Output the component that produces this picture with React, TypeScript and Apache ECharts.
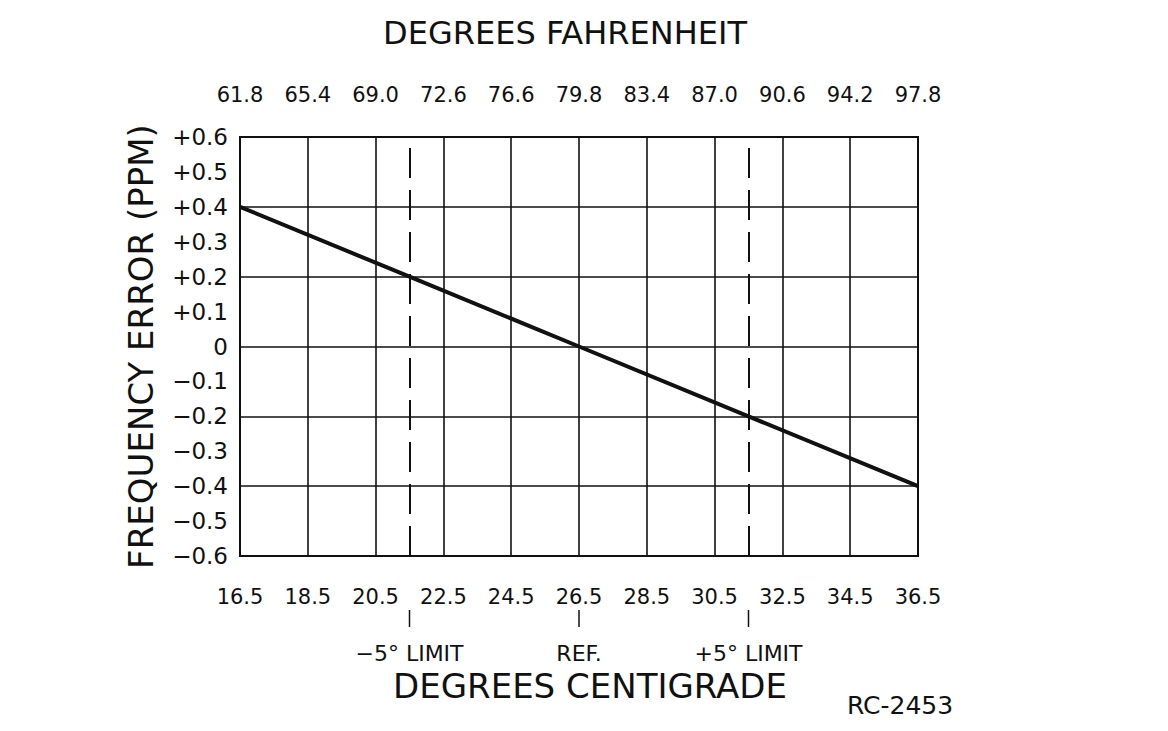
import React, { useEffect, useRef } from "react";
import * as echarts from "echarts";

const celsiusTicks = [16.5, 18.5, 20.5, 22.5, 24.5, 26.5, 28.5, 30.5, 32.5, 34.5, 36.5];
const fahrenheitLabels = ["61.8", "65.4", "69.0", "72.6", "76.6", "79.8", "83.4", "87.0", "90.6", "94.2", "97.8"];
const errorMin = -0.6;
const errorMax = 0.6;
const lineTemps = [16.5, 21.5, 26.5, 31.5, 36.5];
const lineErrors = [0.4, 0.2, 0, -0.2, -0.4];
const limitTemps = [21.5, 31.5];
const markerTemps = [21.5, 26.5, 31.5];
const markerLabels = ["\u22125\u00b0 LIMIT", "REF.", "+5\u00b0 LIMIT"];

const FONT = "DejaVu Sans";
const INK = "#111";

export default function App() {
  const ref = useRef<HTMLDivElement>(null);
  useEffect(() => {
    if (!ref.current) return;
    const chart = echarts.init(ref.current, null, { renderer: "svg" });
    const cMin = celsiusTicks[0];
    const cMax = celsiusTicks[celsiusTicks.length - 1];
    const cStep = celsiusTicks[1] - celsiusTicks[0];
    const fmtErr = (v: number) => {
      const r = Math.round(v * 10) / 10;
      if (r === 0) return "0";
      return (r > 0 ? "+" : "\u2212") + Math.abs(r).toFixed(1);
    };
    chart.setOption({
      animation: false,
      backgroundColor: "#fff",
      grid: { left: 240, right: 250, top: 137, bottom: 175, show: true, borderColor: INK, borderWidth: 2 },
      xAxis: [
        {
          type: "value", min: cMin, max: cMax, interval: cStep, position: "bottom",
          name: "DEGREES CENTIGRADE", nameLocation: "middle", nameGap: 113,
          nameTextStyle: { fontFamily: FONT, fontSize: 34, color: INK, padding: [0, 0, 0, 22] },
          axisLine: { show: false }, axisTick: { show: false },
          axisLabel: { fontFamily: FONT, fontSize: 21, color: INK, margin: 30, formatter: (v: number) => String(v) },
          splitLine: { show: true, lineStyle: { color: INK, width: 1.6 } },
        },
        {
          type: "value", min: cMin, max: cMax, interval: cStep, position: "top",
          name: "DEGREES FAHRENHEIT", nameLocation: "middle", nameGap: 88,
          nameTextStyle: { fontFamily: FONT, fontSize: 32, color: INK, padding: [0, 28, 0, 0] },
          axisLine: { show: false }, axisTick: { show: false },
          axisLabel: {
            fontFamily: FONT, fontSize: 21, color: INK, margin: 32,
            formatter: (v: number) => fahrenheitLabels[Math.round((v - cMin) / cStep)] ?? "",
          },
          splitLine: { show: false },
        },
      ],
      yAxis: [
        {
          type: "value", min: errorMin, max: errorMax, interval: 0.1, position: "left",
          name: "FREQUENCY ERROR (PPM)", nameLocation: "middle", nameGap: 82, nameRotate: 90,
          nameTextStyle: { fontFamily: FONT, fontSize: 34, color: INK },
          axisLine: { show: false }, axisTick: { show: false },
          axisLabel: { fontFamily: FONT, fontSize: 23, color: INK, margin: 12, formatter: fmtErr },
          splitLine: { show: false },
        },
        {
          type: "value", min: errorMin, max: errorMax, interval: 0.2, position: "left",
          axisLine: { show: false }, axisTick: { show: false }, axisLabel: { show: false },
          splitLine: { show: true, lineStyle: { color: INK, width: 1.6 } },
        },
      ],
      series: [
        {
          type: "line", xAxisIndex: 0, yAxisIndex: 0,
          data: lineTemps.map((t, i) => [t, lineErrors[i]]),
          symbol: "none",
          lineStyle: { color: INK, width: 4 },
          markLine: {
            silent: true, symbol: "none", label: { show: false },
            lineStyle: { color: INK, width: 2, type: [30, 12] },
            data: limitTemps.map((t) => ({ xAxis: t })),
          },
        },
      ],
    });
    const graphics: any[] = [];
    markerTemps.forEach((t, i) => {
      const px = chart.convertToPixel({ xAxisIndex: 0 }, t) as number;
      graphics.push({ type: "line", shape: { x1: px, y1: 610, x2: px, y2: 627 }, style: { stroke: INK, lineWidth: 1.5 } });
      graphics.push({
        type: "text", x: px, y: 653,
        style: { text: markerLabels[i], font: `22px '${FONT}'`, fill: INK, textAlign: "center", textVerticalAlign: "middle" },
      });
    });
    graphics.push({
      type: "text", x: 900, y: 705,
      style: { text: "RC-2453", font: `25px '${FONT}'`, fill: INK, textAlign: "center", textVerticalAlign: "middle" },
    });
    chart.setOption({ graphic: graphics });
    return () => chart.dispose();
  }, []);
  return <div ref={ref} style={{ position: "fixed", left: 0, top: 0, width: 1168, height: 731, background: "#fff" }} />;
}
